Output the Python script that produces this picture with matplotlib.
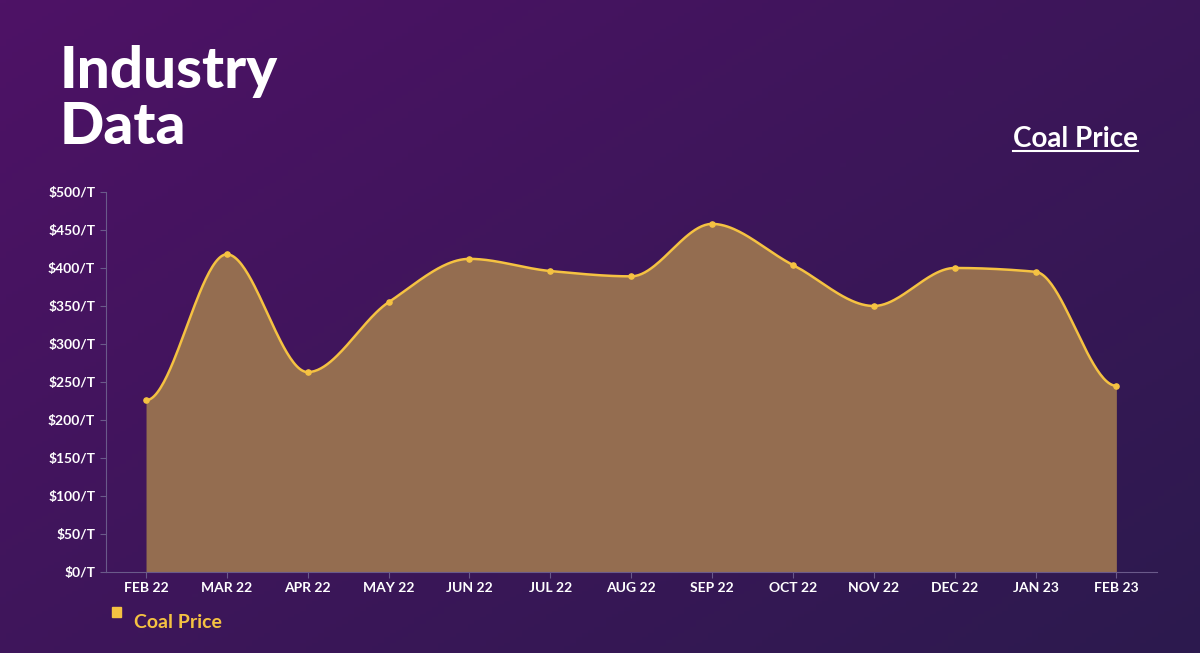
import numpy as np
import matplotlib
matplotlib.use("Agg")
import matplotlib.pyplot as plt
from matplotlib.patches import Rectangle

months = ["FEB 22", "MAR 22", "APR 22", "MAY 22", "JUN 22", "JUL 22", "AUG 22",
          "SEP 22", "OCT 22", "NOV 22", "DEC 22", "JAN 23", "FEB 23"]
price = [226, 418, 263, 355, 412, 396, 389, 458, 404, 350, 400, 395, 245]
yticks = [0, 50, 100, 150, 200, 250, 300, 350, 400, 450, 500]


def pchip(x, y, xs):
    # monotone cubic curve through the points
    x = np.asarray(x, float); y = np.asarray(y, float)
    h = np.diff(x); d = np.diff(y) / h
    m = np.zeros_like(y)
    for i in range(1, len(y) - 1):
        if d[i - 1] * d[i] > 0:
            w1 = 2 * h[i] + h[i - 1]; w2 = h[i] + 2 * h[i - 1]
            m[i] = (w1 + w2) / (w1 / d[i - 1] + w2 / d[i])
    idx = np.clip(np.searchsorted(x, xs) - 1, 0, len(x) - 2)
    t = (xs - x[idx]) / h[idx]
    h00 = 2*t**3 - 3*t**2 + 1; h10 = t**3 - 2*t**2 + t
    h01 = -2*t**3 + 3*t**2; h11 = t**3 - t**2
    return h00*y[idx] + h10*h[idx]*m[idx] + h01*y[idx+1] + h11*h[idx]*m[idx+1]


fig = plt.figure(figsize=(12, 6.53), dpi=100)
bg = fig.add_axes([0, 0, 1, 1])
gx, gy = np.meshgrid(np.linspace(0, 1, 200), np.linspace(0, 1, 200))
g = np.clip(gx * 0.55 + gy * 0.45, 0, 1)
c1 = np.array([0x4e, 0x12, 0x66]) / 255
c2 = np.array([0x2c, 0x1a, 0x4e]) / 255
img = c1[None, None, :] * (1 - g[..., None]) + c2[None, None, :] * g[..., None]
bg.imshow(img, extent=[0, 1, 0, 1], aspect="auto", origin="upper")
bg.axis("off")

fig.text(0.05, 0.865, "Industry", color="white", fontsize=42, fontweight="black", family="Lato")
fig.text(0.05, 0.78, "Data", color="white", fontsize=42, fontweight="black", family="Lato")
t = fig.text(0.948, 0.775, "Coal Price", color="white", fontsize=20, fontweight="bold",
             family="Lato", ha="right")
fig.canvas.draw()
bb = t.get_window_extent().transformed(fig.transFigure.inverted())
fig.add_artist(plt.Line2D([bb.x0, bb.x1], [0.768, 0.768], color="white", lw=1.5))

ax = fig.add_axes([0.088, 0.124, 0.876, 0.582])
ax.patch.set_alpha(0)
x = np.arange(len(months))
xs = np.linspace(0, len(months) - 1, 600)
ys = pchip(x, price, xs)
ax.fill_between(xs, 0, ys, color="#946d50", lw=0)
ax.plot(xs, ys, color="#f5c242", lw=1.8)
ax.scatter(x, price, color="#f5c242", s=14, zorder=3)
ax.set_xlim(-0.5, len(months) - 1 + 0.5)
ax.set_ylim(0, 500)
ax.set_xticks(x)
ax.set_xticklabels(months)
ax.set_yticks(yticks)
ax.set_yticklabels([f"${v}/T" for v in yticks])
for s in ["top", "right"]:
    ax.spines[s].set_visible(False)
for s in ["left", "bottom"]:
    ax.spines[s].set_color("#6a5a8a")
ax.tick_params(color="#6a5a8a", length=4)
for lab in ax.get_xticklabels() + ax.get_yticklabels():
    lab.set_color("white"); lab.set_fontsize(10); lab.set_fontweight("bold"); lab.set_family("Lato")

fig.add_artist(Rectangle((0.093, 0.055), 0.008, 0.016, color="#f5c242"))
fig.text(0.112, 0.038, "Coal Price", color="#f5c242", fontsize=14, fontweight="bold", family="Lato")

fig.savefig("out.png", dpi=100)
